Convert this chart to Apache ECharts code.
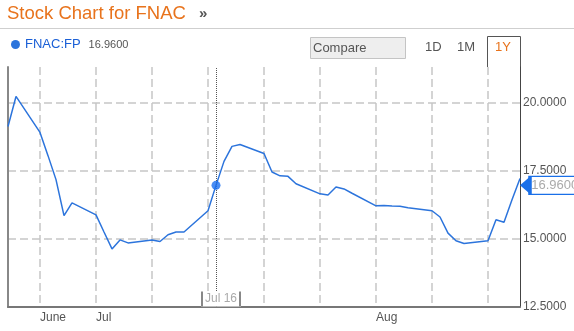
<!DOCTYPE html>
<html>
<head>
<meta charset="utf-8">
<title>Stock Chart for FNAC</title>
<script src="https://cdn.jsdelivr.net/npm/echarts@6/dist/echarts.min.js"></script>
<style>
  html, body { margin: 0; padding: 0; background: #fff; }
  #main { width: 574px; height: 331px; }
</style>
</head>
<body>
<div id="main"></div>
<script>
// FNAC:FP, one point per calendar day from Jun 20 2013, weekends left empty
var startYear = 2013, startMonth = 5, startDate = 20
var dayCount = 65
var prices = [
  19.12, 20.22, null, null,
  18.90, 18.05, 17.17, 15.85, 16.32, null, null,
  15.88, 15.25, 14.63, 14.96, 14.85, null, null,
  14.96, 14.90, 15.15, 15.25, 15.25, null, null,
  16.03, 16.96, 17.84, 18.39, 18.46, null, null,
  18.13, 17.45, 17.31, 17.29, 17.02, null, null,
  16.65, 16.61, 16.90, 16.83, 16.67, null, null,
  16.21, 16.22, 16.20, 16.19, 16.14, null, null,
  16.03, 15.80, 15.21, 14.93, 14.83, null, null,
  14.93, 15.70, 15.61, 16.43, 17.21
]
var tickDays = ['2013-06-24', '2013-07-01', '2013-08-05']
var tickNames = ['June', 'Jul', 'Aug']
var yMin = 12.5
var yMax = 21.3
var yStep = 2.5
var pickDay = '2013-07-16'
var pickLabel = 'Jul 16'
var lastQuote = 16.96

var blue = '#2c74dc'
var gridColor = '#c6c6c6'
var font = 'Liberation Sans, Arial, sans-serif'

var days = []
for (var i = 0; i < dayCount; i++) {
  days.push(new Date(Date.UTC(startYear, startMonth, startDate + i)).toISOString().slice(0, 10))
}
var pickValue = prices[days.indexOf(pickDay)]

var myChart = echarts.init(document.getElementById('main'))
myChart.setOption({
  animation: false,
  textStyle: { fontFamily: font },
  title: {
    text: 'Stock Chart for FNAC',
    left: 7,
    top: 4,
    padding: 0,
    textStyle: { color: '#e8731c', fontSize: 18.5, fontWeight: 'normal', fontFamily: font }
  },
  legend: {
    data: ['FNAC:FP'],
    left: 11,
    top: 38,
    padding: 0,
    icon: 'circle',
    itemWidth: 9,
    itemHeight: 9,
    itemGap: 5,
    formatter: function () {
      return '{n|FNAC:FP}{v|' + lastQuote.toFixed(4) + '}'
    },
    textStyle: {
      rich: {
        n: { color: '#1a5fd6', fontSize: 13, fontFamily: font },
        v: { color: '#555', fontSize: 11, fontFamily: font, padding: [0, 0, 0, 8] }
      }
    }
  },
  graphic: [
    { type: 'text', left: 199, top: 6, style: { text: '»', fill: '#555', font: 'bold 15px ' + font } },
    { type: 'line', shape: { x1: 0, y1: 28.5, x2: 574, y2: 28.5 }, style: { stroke: '#cfcfcf', lineWidth: 1 } },
    { type: 'rect', shape: { x: 310.5, y: 37.5, width: 95, height: 21 }, style: { fill: '#eeeeee', stroke: '#c4c4c4', lineWidth: 1 } },
    { type: 'text', x: 313, y: 48, style: { text: 'Compare', fill: '#555', font: '13px ' + font, verticalAlign: 'middle' } },
    { type: 'text', x: 425, y: 47, style: { text: '1D', fill: '#555', font: '13px ' + font, verticalAlign: 'middle' } },
    { type: 'text', x: 457, y: 47, style: { text: '1M', fill: '#555', font: '13px ' + font, verticalAlign: 'middle' } },
    { type: 'text', x: 495, y: 47, style: { text: '1Y', fill: '#e8731c', font: '13px ' + font, verticalAlign: 'middle' } },
    { type: 'polyline', shape: { points: [[487.5, 67], [487.5, 36.5], [520.5, 36.5], [520.5, 67]] }, style: { stroke: '#555', fill: null, lineWidth: 1 } }
  ],
  grid: { left: 8, right: 54, top: 67, bottom: 24, containLabel: false, outerBoundsMode: 'none' },
  xAxis: {
    type: 'category',
    data: days,
    boundaryGap: false,
    axisLine: { onZero: false, lineStyle: { color: '#777', width: 2 } },
    axisTick: { show: false },
    axisLabel: {
      interval: function (index, value) { return tickDays.indexOf(value) >= 0 },
      formatter: function (value) { return tickNames[tickDays.indexOf(value)] || '' },
      align: 'left',
      margin: 5,
      color: '#555',
      fontSize: 12
    },
    splitLine: {
      show: true,
      interval: function (index) { return new Date(days[index]).getUTCDay() === 1 },
      lineStyle: { color: gridColor, type: [8, 4], width: 1.5 }
    }
  },
  yAxis: [
    {
      type: 'value',
      position: 'right',
      min: yMin,
      max: yMax,
      interval: yStep,
      axisLine: { show: true, lineStyle: { color: '#444', width: 1 } },
      axisTick: { show: false },
      axisLabel: {
        color: '#555',
        fontSize: 12,
        margin: 3,
        showMaxLabel: false,
        formatter: function (v) { return v.toFixed(4) }
      },
      splitLine: {
        show: true,
        showMinLine: false,
        showMaxLine: false,
        lineStyle: { color: gridColor, type: [8, 4], width: 1.5 }
      }
    },
    {
      type: 'value',
      position: 'left',
      min: yMin,
      max: yMax,
      axisLine: { show: true, lineStyle: { color: '#888', width: 2 } },
      axisTick: { show: false },
      axisLabel: { show: false },
      splitLine: { show: false }
    }
  ],
  series: [
    {
      name: 'FNAC:FP',
      type: 'line',
      data: prices,
      connectNulls: true,
      showSymbol: false,
      symbol: 'circle',
      itemStyle: { color: blue },
      lineStyle: { color: blue, width: 1.5 },
      markLine: {
        silent: true,
        symbol: 'none',
        label: { show: false },
        lineStyle: { color: '#555', type: 'dotted', width: 1 },
        data: [{ xAxis: pickDay }]
      },
      markPoint: {
        silent: true,
        data: [
          {
            coord: [pickDay, yMin],
            symbol: 'rect',
            symbolSize: 1,
            itemStyle: { color: 'rgba(0,0,0,0)' },
            label: {
              show: true,
              position: 'inside',
              offset: [5, -8],
              backgroundColor: '#fff',
              formatter: '{b|}{t|' + pickLabel + '}{b|}',
              rich: {
                b: { width: 2, height: 15, backgroundColor: '#888' },
                t: { color: '#aaa', fontSize: 12, fontFamily: font, padding: [0, 2], height: 15 }
              }
            }
          },
          {
            coord: [days[dayCount - 1], lastQuote],
            symbol: 'path://M0,5 L6,0 L6,10 Z',
            symbolSize: [11, 19],
            symbolOffset: [5.5, 0],
            itemStyle: { color: '#1a6fe8' },
            label: { show: false }
          },
          {
            coord: [days[dayCount - 1], lastQuote],
            symbol: 'rect',
            symbolSize: [56, 18],
            symbolOffset: [38, 0],
            itemStyle: { color: '#fff', borderColor: '#1a6fe8', borderWidth: 2 },
            label: {
              show: true,
              position: 'insideLeft',
              distance: 3,
              formatter: lastQuote.toFixed(4),
              color: '#aaa',
              fontSize: 13,
              fontFamily: font
            }
          }
        ]
      }
    },
    {
      name: 'pick',
      type: 'scatter',
      data: [[pickDay, pickValue]],
      symbolSize: 9,
      itemStyle: { color: '#1a6ff0' },
      z: 5
    }
  ]
})
</script>
</body>
</html>
